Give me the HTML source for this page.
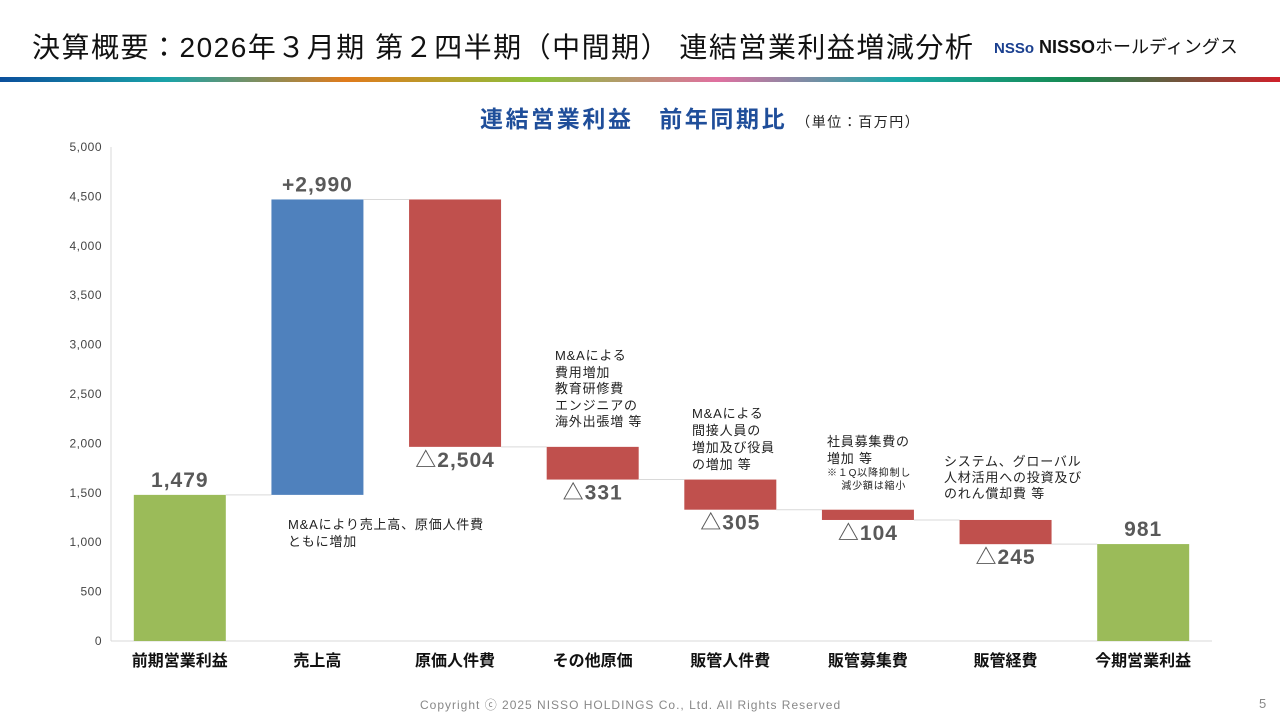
<!DOCTYPE html>
<html><head><meta charset="utf-8"><style>
body{margin:0;width:1280px;height:720px;background:#fff;font-family:"Liberation Sans","Noto Sans CJK JP",sans-serif;position:relative;overflow:hidden}
.t{position:absolute;white-space:nowrap}
.n{letter-spacing:0.8px}
</style></head><body>
<div class="t" style="left:32px;top:26px;font-size:28px;letter-spacing:1.5px;color:#111">決算概要：2026年３月期 第２四半期（中間期） 連結営業利益増減分析</div>
<div class="t" style="left:994px;top:33px;font-size:18px;color:#111"><span style="color:#1a3f8f;font-weight:bold;font-size:15px">NSSo</span> <b>NISSO</b>ホールディングス</div>
<div style="position:absolute;left:0;top:77px;width:1280px;height:5px;background:linear-gradient(90deg,#0b4f9c 0%,#1aa3a8 13%,#e07b1c 27%,#8cc03c 42%,#e070a0 56%,#1aa8a8 70%,#158a50 84%,#d0202a 100%)"></div>
<div class="t" style="left:480px;top:100px;font-size:23px;letter-spacing:2.6px;font-weight:bold;color:#1f4e9a">連結営業利益　前年同期比 <span style="font-size:14px;letter-spacing:1.5px;color:#222;font-weight:normal">（単位：百万円）</span></div>
<svg id="c" width="1280" height="720" style="position:absolute;left:0;top:0"></svg>
<div class="t n" style="left:288px;top:516px;font-size:13px;line-height:17px;color:#222">M&amp;Aにより売上高、原価人件費<br>ともに増加</div>
<div class="t n" style="left:555px;top:348px;font-size:13px;line-height:16.5px;color:#222">M&amp;Aによる<br>費用増加<br>教育研修費<br>エンジニアの<br>海外出張増 等</div>
<div class="t n" style="left:692px;top:405px;font-size:13px;line-height:17px;color:#222">M&amp;Aによる<br>間接人員の<br>増加及び役員<br>の増加 等</div>
<div class="t n" style="left:827px;top:433px;font-size:13px;line-height:17px;color:#222">社員募集費の<br>増加 等<br><span style="font-size:10px;line-height:13px;display:inline-block">※１Q以降抑制し<br>&nbsp;&nbsp;&nbsp;&nbsp;減少額は縮小</span></div>
<div class="t n" style="left:944px;top:454px;font-size:13px;line-height:16px;color:#222">システム、グローバル<br>人材活用への投資及び<br>のれん償却費 等</div>
<div class="t" style="left:420px;top:696px;font-size:12px;letter-spacing:1px;color:#888">Copyright ⓒ 2025 NISSO HOLDINGS Co., Ltd. All Rights Reserved</div>
<div class="t" style="left:1259px;top:696px;font-size:13px;color:#888">5</div>
<script>
const categories=["前期営業利益","売上高","原価人件費","その他原価","販管人件費","販管募集費","販管経費","今期営業利益"];
const deltas=[1479,2990,-2504,-331,-305,-104,-245,981];
const kinds=["total","up","down","down","down","down","down","total"];
const valueLabels=["1,479","+2,990","△2,504","△331","△305","△104","△245","981"];
const yTicks=[0,500,1000,1500,2000,2500,3000,3500,4000,4500,5000];
const NS="http://www.w3.org/2000/svg",svg=document.getElementById('c');
const y0=641,y1=147,xL=111,xR=1212,yMax=5000;
const y=v=>y0-(y0-y1)*v/yMax;
const bw=(xR-xL)/categories.length;
const xc=i=>xL+bw*(i+0.5);
function mk(t,a){const e=document.createElementNS(NS,t);for(const k in a)e.setAttribute(k,a[k]);svg.appendChild(e);return e;}
let ax=mk('line',{x1:xL,y1:y1,x2:xL,y2:y0,stroke:'#d9d9d9'});
let bx=mk('line',{x1:xL,y1:y0,x2:xR,y2:y0,stroke:'#d9d9d9'});
yTicks.forEach(v=>{const t=mk('text',{x:102,y:y(v)+4,'text-anchor':'end','font-size':12,fill:'#444','letter-spacing':0.5});t.textContent=v.toLocaleString('en-US');
});
const colors={total:'#9bbb59',up:'#4f81bd',down:'#c0504d'};
let run=0,prevTop=null;
categories.forEach((c,i)=>{let lo,hi;
 if(kinds[i]==='total'){lo=0;hi=deltas[i];run=deltas[i];}
 else{const nr=run+deltas[i];lo=Math.min(run,nr);hi=Math.max(run,nr);run=nr;}
 const end=kinds[i]==='total'?hi:run;
 if(prevTop!==null){const l=mk('line',{x1:xc(i-1)+46,x2:xc(i)-46,y1:y(prevTop),y2:y(prevTop),stroke:'#d9d9d9'});}
 prevTop=end;
 const r=mk('rect',{x:xc(i)-46,y:y(hi),width:92,height:y(lo)-y(hi),fill:colors[kinds[i]]});
 
 const ly=kinds[i]==='down'?y(lo)+20:y(hi)-8;
 const t=mk('text',{x:xc(i),y:ly,'text-anchor':'middle','font-size':21,'font-weight':'bold',fill:'#595959','letter-spacing':1});t.textContent=valueLabels[i];
 
 const cl=mk('text',{x:xc(i),y:666,'text-anchor':'middle','font-size':16,'font-weight':'bold',fill:'#111'});cl.textContent=c;
 
});
</script>
</body></html>
